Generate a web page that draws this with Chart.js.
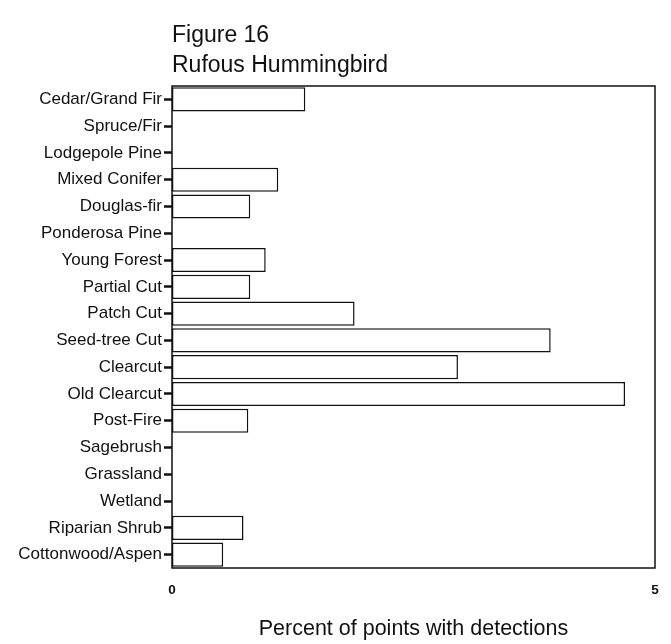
<!DOCTYPE html>
<html>
<head>
<meta charset="utf-8">
<title>Figure 16 – Rufous Hummingbird</title>
<script src="https://cdn.jsdelivr.net/npm/chart.js@4.4.1/dist/chart.umd.min.js"></script>
<style>
  html, body { margin: 0; padding: 0; background: #ffffff; }
  #wrap { position: relative; width: 671px; height: 644px; }
</style>
</head>
<body>
<div id="wrap"><canvas id="chart" width="671" height="644"></canvas></div>
<script>
// Habitat types, top to bottom
const categories = [
  'Cedar/Grand Fir', 'Spruce/Fir', 'Lodgepole Pine', 'Mixed Conifer',
  'Douglas-fir', 'Ponderosa Pine', 'Young Forest', 'Partial Cut',
  'Patch Cut', 'Seed-tree Cut', 'Clearcut', 'Old Clearcut', 'Post-Fire',
  'Sagebrush', 'Grassland', 'Wetland', 'Riparian Shrub', 'Cottonwood/Aspen'
];

// Percent of survey points with Rufous Hummingbird detections
const percentDetected = [
  1.38, 0, 0, 1.10,
  0.81, 0, 0.97, 0.81,
  1.89, 3.92, 2.96, 4.69, 0.79,
  0, 0, 0, 0.74, 0.53
];

// Labelled values on the horizontal axis
const xTickValues = [0, 5];

const figureTitle = 'Figure 16';
const speciesTitle = 'Rufous Hummingbird';
const xAxisTitle = 'Percent of points with detections';

const FONT = "'Liberation Sans', Arial, Helvetica, sans-serif";

// Headings above the plot plus the box around the plotting area
const framePlugin = {
  id: 'frameAndHeadings',
  afterDatasetsDraw(chart) {
    const { ctx, chartArea: a } = chart;
    ctx.save();
    ctx.strokeStyle = '#111';
    ctx.lineWidth = 1.5;
    ctx.strokeRect(a.left, a.top, a.right - a.left, a.bottom - a.top);
    ctx.restore();
  },
  afterDraw(chart) {
    const { ctx, chartArea: a } = chart;
    ctx.save();
    ctx.fillStyle = '#111';
    ctx.textAlign = 'left';
    ctx.textBaseline = 'middle';
    ctx.font = '23px ' + FONT;
    ctx.fillText(figureTitle, a.left, 36);
    ctx.fillText(speciesTitle, a.left, 66);
    ctx.restore();
  }
};

new Chart(document.getElementById('chart'), {
  type: 'bar',
  data: {
    labels: categories,
    datasets: [{
      data: percentDetected,
      backgroundColor: '#ffffff',
      borderColor: '#111',
      borderWidth: 1.5,
      borderSkipped: false,
      barPercentage: 0.9,
      categoryPercentage: 1.0
    }]
  },
  options: {
    indexAxis: 'y',
    responsive: false,
    animation: false,
    layout: { padding: { top: 86, right: 16, left: 0, bottom: 0 } },
    plugins: {
      legend: { display: false },
      tooltip: { enabled: false },
      title: { display: false }
    },
    scales: {
      x: {
        type: 'linear',
        min: 0,
        max: 5,
        afterBuildTicks(scale) {
          scale.ticks = xTickValues.map(v => ({ value: v }));
        },
        afterFit(scale) {
          scale.height = 76;
          scale.paddingRight = 0;
          scale.paddingLeft = 0;
        },
        border: { display: false },
        grid: { display: false, drawTicks: false },
        ticks: {
          color: '#111',
          padding: 14,
          maxRotation: 0,
          font: { family: FONT, size: 13.5, weight: 'bold' }
        },
        title: {
          display: true,
          text: xAxisTitle,
          color: '#111',
          padding: { top: 0, bottom: 2 },
          font: { family: FONT, size: 21.5 }
        }
      },
      y: {
        afterFit(scale) { scale.width = 172; },
        border: { display: false },
        grid: {
          display: true,
          offset: false,
          drawOnChartArea: false,
          drawTicks: true,
          tickLength: 8,
          tickWidth: 2.5,
          tickColor: '#111'
        },
        ticks: {
          color: '#111',
          padding: 2,
          autoSkip: false,
          font: { family: FONT, size: 17 }
        }
      }
    }
  },
  plugins: [framePlugin]
});
</script>
</body>
</html>
